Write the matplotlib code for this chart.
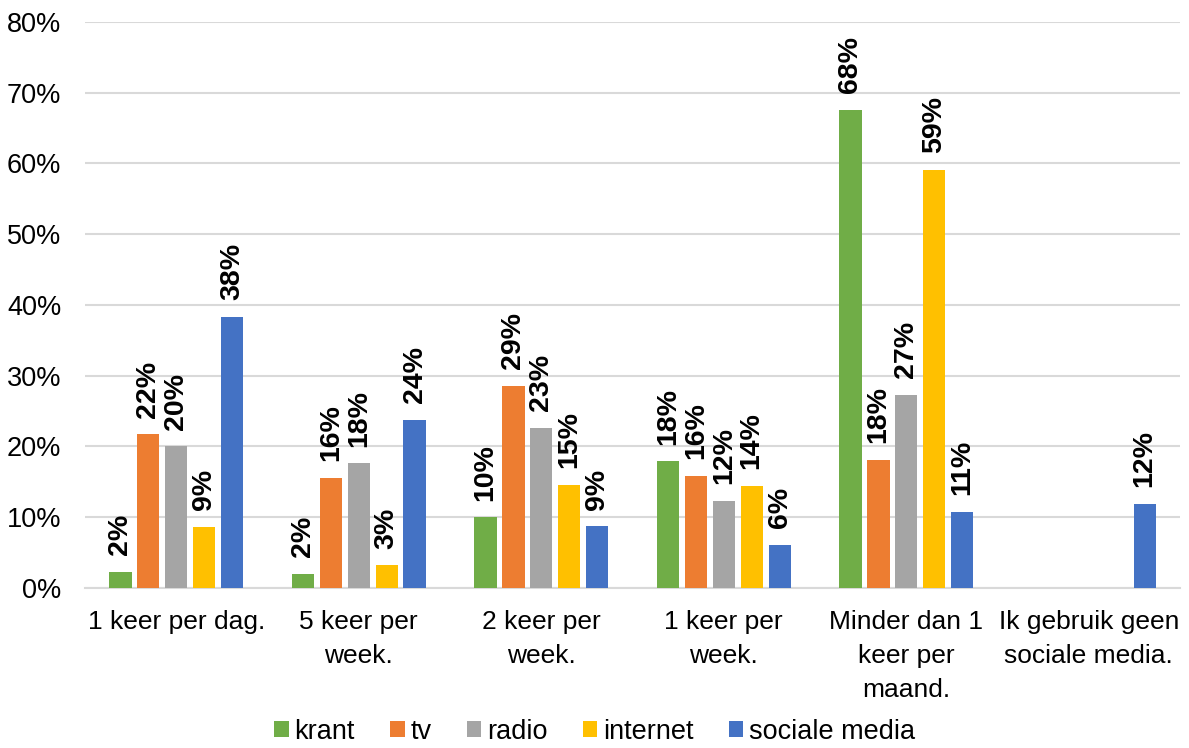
import matplotlib.pyplot as plt
import numpy as np

plt.rcParams['font.family'] = ['Liberation Sans', 'DejaVu Sans']

# categories and series (percentages)
categories = ["1 keer per dag.", "5 keer per\nweek.", "2 keer per\nweek.",
              "1 keer per\nweek.", "Minder dan 1\nkeer per\nmaand.",
              "Ik gebruik geen\nsociale media."]
series_names = ["krant", "tv", "radio", "internet", "sociale media"]
krant = [2.3, 2.0, 10.0, 17.9, 67.6, np.nan]
tv = [21.7, 15.6, 28.6, 15.8, 18.1, np.nan]
radio = [20.0, 17.6, 22.6, 12.3, 27.3, np.nan]
internet = [8.6, 3.2, 14.6, 14.4, 59.1, np.nan]
sociale_media = [38.3, 23.8, 8.7, 6.1, 10.8, 11.9]
colors = ["#70AD47", "#ED7D31", "#A5A5A5", "#FFC000", "#4472C4"]

all_series = [krant, tv, radio, internet, sociale_media]

fig = plt.figure(figsize=(11.89, 7.48), dpi=100)
ax = fig.add_axes([0.0715, 0.214, 0.921, 0.7566])

x = np.arange(len(categories))
step = 0.153
width = 0.122
for i, (name, vals, col) in enumerate(zip(series_names, all_series, colors)):
    pos = x + (i - 2) * step
    ax.bar(pos, vals, width, color=col, label=name, zorder=3)
    for p, v in zip(pos, vals):
        if np.isnan(v):
            continue
        ax.annotate(f"{v:.0f}%", (p, v), xytext=(0, 12), textcoords='offset points',
                    rotation=90, ha='center', va='bottom', fontsize=20.5,
                    fontweight='bold', color='black')

ax.set_xlim(-0.5, len(categories) - 0.5)
ax.set_ylim(0, 80)
ax.set_yticks(range(0, 81, 10))
ax.set_yticklabels([f"{t}%" for t in range(0, 81, 10)])
ax.set_xticks(x)
ax.set_xticklabels(categories, linespacing=1.53)
ax.tick_params(axis='both', length=0, colors='black')
ax.tick_params(axis='y', pad=17, labelsize=19.5)
ax.tick_params(axis='x', pad=16, labelsize=19)
ax.grid(axis='y', color='#D9D9D9', linewidth=1.5, zorder=0)
for s in ['top', 'right', 'left']:
    ax.spines[s].set_visible(False)
ax.spines['bottom'].set_color('#D9D9D9')
ax.spines['bottom'].set_linewidth(1.5)

fig.legend(loc='lower center', ncol=5, frameon=False, fontsize=19.5,
           handlelength=0.55, handleheight=0.55, handletextpad=0.2,
           columnspacing=1.3, bbox_to_anchor=(0.5, -0.028))

fig.savefig("out.png", dpi=100)
